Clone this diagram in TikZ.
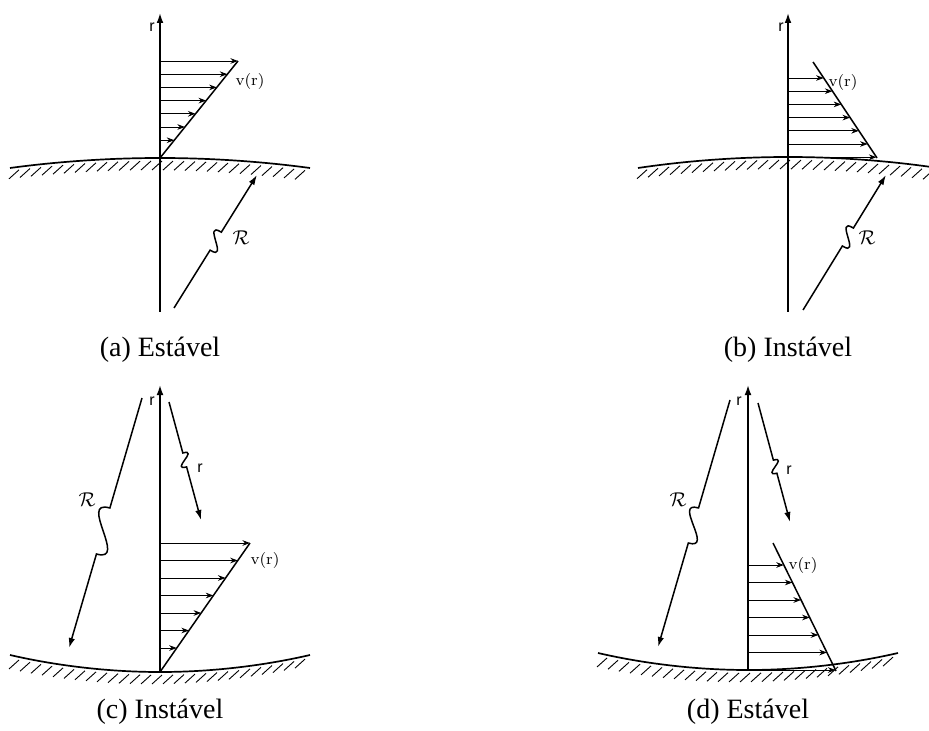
\documentclass[tikz,border=0pt]{standalone}
\usepackage{fontspec}
\setsansfont{Liberation Sans}
\newfontfamily\capfont{Liberation Serif}
\usetikzlibrary{arrows.meta,calc}

\begin{document}
\begin{tikzpicture}[x=0.5pt,y=-0.5pt,
  axis/.style={line width=0.8pt,-{Latex[length=5pt,width=3.4pt]}},
  vel/.style={line width=0.45pt,-{Stealth[length=3.8pt,width=2.8pt]}},
  prof/.style={line width=0.75pt},
  wall/.style={line width=0.85pt},
  hatch/.style={line width=0.45pt},
  dist/.style={line width=0.75pt},
  headstart/.style={{Latex[length=5pt,width=3.2pt]}-},
  headend/.style={-{Latex[length=5pt,width=3.2pt]}},
  lbl/.style={font=\sffamily\footnotesize},
  vlbl/.style={font=\footnotesize},
  subcap/.style={font=\capfont\fontsize{14}{16}\selectfont}]
\useasboundingbox (0,0) rectangle (929,731);

% (a) convex wall, velocity growing outward
\begin{scope}
\coordinate (aO) at (160,158);
\coordinate (aTop) at (238,61);
\draw[wall] (10,168) parabola bend (aO) (310,168);
\foreach \x in {19,30,...,308} {
  \pgfmathsetmacro\yc{158+10*((\x-160)/150)^2}
  \draw[hatch] (\x,\yc+3) -- ++(-10,9);
}
\draw[axis] (160,312) -- (160,13);
\node[lbl] (ar) at (152,27) {r};
\draw[prof] (aO) -- (aTop);
\foreach \i in {0,...,6} {
  \pgfmathsetmacro\yy{61+\i*13.2}
  \pgfmathsetmacro\xx{160+(158-\yy)*78/97}
  \draw[vel] (160,\yy) -- (\xx,\yy);
}
\node[vlbl] (av) at (250,82) {v(r)};
\coordinate (aRt) at (174,308);
\coordinate (aRh) at (257,175);
\coordinate (aRA) at ($(aRt)!0.57!(aRh)$);
\coordinate (aRB) at ($(aRt)!0.435!(aRh)$);
\draw[dist,headstart] (aRh) -- (aRA) .. controls ($(aRA)!1.1!-90:(aRB)$) and ($(aRB)!1.1!-90:(aRA)$) .. (aRB) -- (aRt);
\node (aR) at (241,238) {$\mathcal{R}$};
\node[subcap] (capa) at (160,350) {(a) Estável};
\end{scope}

% (b) convex wall, velocity falling outward
\begin{scope}
\coordinate (bO) at (788,157);
\coordinate (bTop) at (813,62);
\coordinate (bEnd) at (877,158);
\draw[wall] (638,168) parabola bend (bO) (938,168);
\foreach \x in {647,658,...,935} {
  \pgfmathsetmacro\yc{157+11*((\x-788)/150)^2}
  \draw[hatch] (\x,\yc+3) -- ++(-10,9);
}
\draw[axis] (788,312) -- (788,13);
\node[lbl] (br) at (781,27) {r};
\draw[prof] (bTop) -- (bEnd);
\foreach \i in {0,...,6} {
  \pgfmathsetmacro\yy{78+\i*13.2}
  \pgfmathsetmacro\xx{813+(\yy-62)*64/96}
  \draw[vel] (788,\yy) -- (\xx,\yy);
}
\node[vlbl] (bv) at (843,83) {v(r)};
\coordinate (bRt) at (803,310);
\coordinate (bRh) at (886,175);
\coordinate (bRA) at ($(bRt)!0.607!(bRh)$);
\coordinate (bRB) at ($(bRt)!0.474!(bRh)$);
\draw[dist,headstart] (bRh) -- (bRA) .. controls ($(bRA)!1.1!-90:(bRB)$) and ($(bRB)!1.1!-90:(bRA)$) .. (bRB) -- (bRt);
\node (bR) at (867,238) {$\mathcal{R}$};
\node[subcap] (capb) at (788,350) {(b) Instável};
\end{scope}

% (c) concave wall, velocity growing outward
\begin{scope}
\coordinate (cO) at (160,672);
\coordinate (cTop) at (250,543);
\draw[wall] (10,655) parabola bend (cO) (310,655);
\foreach \x in {19,30,...,308} {
  \pgfmathsetmacro\yc{672-17*((\x-160)/150)^2}
  \draw[hatch] (\x,\yc+3) -- ++(-10,9);
}
\draw[axis] (cO) -- (160,385);
\node[lbl] (cr) at (152,401) {r};
\draw[prof] (cO) -- (cTop);
\foreach \i in {0,...,6} {
  \pgfmathsetmacro\yy{543+\i*17.5}
  \pgfmathsetmacro\xx{160+(672-\yy)*90/129}
  \draw[vel] (160,\yy) -- (\xx,\yy);
}
\node[vlbl] (cv) at (265,560) {v(r)};
\coordinate (cRt) at (142,398);
\coordinate (cRh) at (69,648);
\coordinate (cRA) at ($(cRt)!0.44!(cRh)$);
\coordinate (cRB) at ($(cRt)!0.624!(cRh)$);
\draw[dist,headend] (cRt) -- (cRA) .. controls ($(cRA)!0.7!-90:(cRB)$) and ($(cRB)!0.7!-90:(cRA)$) .. (cRB) -- (cRh);
\node (cR) at (87,500) {$\mathcal{R}$};
\coordinate (crt) at (169,402);
\coordinate (crh) at (201,520);
\coordinate (crA) at ($(crt)!0.432!(crh)$);
\coordinate (crB) at ($(crt)!0.55!(crh)$);
\draw[dist,headend] (crt) -- (crA) .. controls ($(crA)!1.2!90:(crB)$) and ($(crB)!1.2!90:(crA)$) .. (crB) -- (crh);
\node[lbl] (crl) at (200,468) {r};
\node[subcap] (capc) at (160,712) {(c) Instável};
\end{scope}

% (d) concave wall, velocity falling outward
\begin{scope}
\coordinate (dO) at (748,670);
\coordinate (dTop) at (773,543);
\coordinate (dEnd) at (836,671);
\draw[wall] (598,653) parabola bend (dO) (898,653);
\foreach \x in {607,618,...,896} {
  \pgfmathsetmacro\yc{670-17*((\x-748)/150)^2}
  \draw[hatch] (\x,\yc+3) -- ++(-10,9);
}
\draw[axis] (dO) -- (748,385);
\node[lbl] (dr) at (739,401) {r};
\draw[prof] (dTop) -- (dEnd);
\foreach \i in {0,...,6} {
  \pgfmathsetmacro\yy{565+\i*17.5}
  \pgfmathsetmacro\xx{773+(\yy-543)*63/128}
  \draw[vel] (748,\yy) -- (\xx,\yy);
}
\node[vlbl] (dv) at (803,565) {v(r)};
\coordinate (dRt) at (730,400);
\coordinate (dRh) at (658,647);
\coordinate (dRA) at ($(dRt)!0.437!(dRh)$);
\coordinate (dRB) at ($(dRt)!0.579!(dRh)$);
\draw[dist,headend] (dRt) -- (dRA) .. controls ($(dRA)!0.75!-90:(dRB)$) and ($(dRB)!0.75!-90:(dRA)$) .. (dRB) -- (dRh);
\node (dR) at (678,500) {$\mathcal{R}$};
\coordinate (drt) at (758,403);
\coordinate (drh) at (790,522);
\coordinate (drA) at ($(drt)!0.48!(drh)$);
\coordinate (drB) at ($(drt)!0.59!(drh)$);
\draw[dist,headend] (drt) -- (drA) .. controls ($(drA)!1.2!90:(drB)$) and ($(drB)!1.2!90:(drA)$) .. (drB) -- (drh);
\node[lbl] (drl) at (789,470) {r};
\node[subcap] (capd) at (748,712) {(d) Estável};
\end{scope}
\end{tikzpicture}
\end{document}
